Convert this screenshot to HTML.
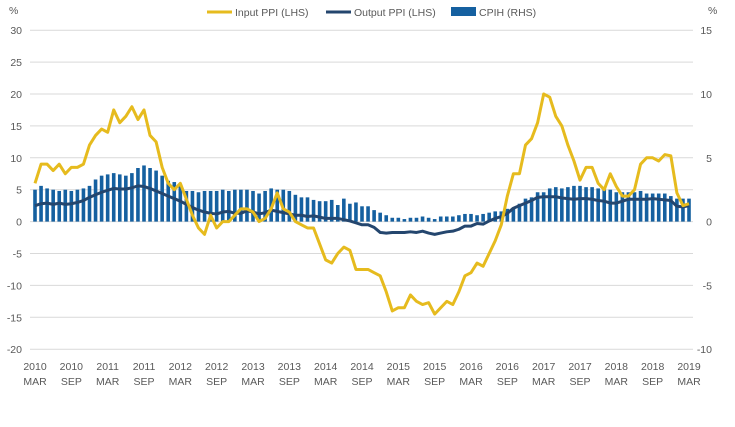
<!DOCTYPE html>
<html><head><meta charset="utf-8"><style>
body{margin:0;background:#fff;font-family:"Liberation Sans",sans-serif}
svg text{font-family:"Liberation Sans",sans-serif;font-size:10.5px;fill:#595959}
</style></head><body>
<svg id="c" width="735" height="422"></svg>
<script>
const startYear=2010,startMonth=3;
const inputPPI=[6,9,9,8,9,7.5,8.5,8.5,9,12,
13.5,14.5,14,17.5,15.5,16.5,18,16,17.5,13.5,12.5,8.5,
6,5,6,3.5,1,-1,-2,1,-1,0,0,1,
2,2,1.5,0,0.5,2,4.5,2,1.5,0,-0.5,-1,
-1,-3.5,-6,-6.5,-5,-4,-4.5,-7.5,-7.5,-7.5,-8,-8.5,
-11,-14,-13.5,-13.5,-11.5,-12.5,-13,-12.7,-14.5,-13.5,-12.5,-13,
-11,-8.5,-8,-6.5,-7,-5,-3,-0.5,4,7.5,7.5,12,
13,15.5,20,19.5,16.5,15,12,9.5,6.5,8.5,8.5,6,
5,7.5,5.5,4,4,5,9,10,10,9.5,10.5,10.3,
4.5,2.5,2.8,4,3.7].slice(0,109);
const outputPPI=[2.5,2.8,2.9,2.7,2.9,2.7,2.8,3.0,3.3,3.8,
4.2,4.6,4.9,5.2,5.1,5.1,5.3,5.6,5.5,5.2,4.8,4.4,
4.0,3.6,3.2,2.7,2.2,1.8,1.5,1.3,1.2,1.5,1.6,1.3,
1.3,1.7,1.5,1.2,1.4,1.8,1.6,1.4,1.2,1.0,1.0,0.8,
0.9,0.7,0.5,0.5,0.5,0.3,0.1,-0.2,-0.5,-0.5,-0.9,-1.7,
-1.8,-1.7,-1.7,-1.7,-1.6,-1.7,-1.5,-1.8,-2.0,-1.8,-1.6,-1.5,
-1.2,-0.7,-0.7,-0.3,-0.4,0.1,0.5,0.8,1.3,2.1,2.5,2.9,
3.3,3.8,3.9,3.9,3.9,3.7,3.6,3.5,3.6,3.6,3.5,3.3,
3.2,2.9,2.9,3.2,3.5,3.5,3.5,3.5,3.6,3.5,3.4,3.3,
2.4,2.3,2.5];
const cpih=[2.5,2.8,2.6,2.5,2.4,2.5,2.4,2.5,2.6,2.8,
3.3,3.6,3.7,3.8,3.7,3.6,3.8,4.2,4.4,4.2,4.0,3.6,
3.2,3.1,2.9,2.4,2.4,2.3,2.4,2.4,2.4,2.5,2.4,2.5,
2.5,2.5,2.4,2.2,2.4,2.6,2.5,2.5,2.4,2.1,1.9,1.9,
1.7,1.6,1.6,1.7,1.3,1.8,1.4,1.5,1.2,1.2,0.9,0.7,
0.5,0.3,0.3,0.2,0.3,0.3,0.4,0.3,0.2,0.4,0.4,0.4,
0.5,0.6,0.6,0.5,0.6,0.7,0.8,0.8,1.0,1.1,1.4,1.8,
1.9,2.3,2.3,2.6,2.7,2.6,2.7,2.8,2.8,2.7,2.7,2.6,
2.6,2.5,2.3,2.3,2.3,2.3,2.4,2.2,2.2,2.2,2.2,2.0,
1.8,1.8,1.8];
const leftTicks=[30,25,20,15,10,5,0,-5,-10,-15,-20];
const rightTicks=[15,10,5,0,-5,-10];
const xYears=["2010","2010","2011","2011","2012","2012","2013","2013","2014","2014","2015","2015","2016","2016","2017","2017","2018","2018","2019"];
const xMonths=["MAR","SEP","MAR","SEP","MAR","SEP","MAR","SEP","MAR","SEP","MAR","SEP","MAR","SEP","MAR","SEP","MAR","SEP","MAR"];

const NS="http://www.w3.org/2000/svg",svg=document.getElementById('c');
const n=inputPPI.length;
const x=i=>35+i*(654/108);
const yL=v=>221.6-v*(319/50);
const yR=v=>221.6-v*(319/25);
function el(t,a,p){const e=document.createElementNS(NS,t);for(const k in a)e.setAttribute(k,a[k]);(p||svg).appendChild(e);return e;}
leftTicks.forEach(v=>{
 const g=el('line',{x1:30,x2:693,y1:yL(v),y2:yL(v),stroke:'#d9d9d9','stroke-width':1});
 
 
 const t=el('text',{x:22,y:yL(v)+4,'text-anchor':'end'});t.textContent=v;
 
 
});
rightTicks.forEach(v=>{
 const t=el('text',{x:712,y:yR(v)+4,'text-anchor':'end'});t.textContent=v;
 
 
});
let t1=el('text',{x:9,y:14});t1.textContent='%';
let t2=el('text',{x:708,y:14});t2.textContent='%';
cpih.forEach((v,i)=>{
 const y0=yR(0),y1=yR(v);
 const b=el('rect',{x:x(i)-1.8,y:Math.min(y0,y1),width:3.6,height:Math.abs(y1-y0),fill:'#1560a0'});
 
 
});
function line(arr,col,name){
 const p=el('polyline',{points:arr.map((v,i)=>x(i)+','+yL(v)).join(' '),fill:'none',stroke:col,'stroke-width':3,'stroke-linejoin':'round'});
 
 
}
line(outputPPI,'#24466e','output-ppi-line');
line(inputPPI,'#e6bb1e','input-ppi-line');
xYears.forEach((yv,i)=>{
 const xx=x(i*6);
 const a=el('text',{x:xx,y:370,'text-anchor':'middle'});a.textContent=yv;
 
 
 const b=el('text',{x:xx,y:385,'text-anchor':'middle'});b.textContent=xMonths[i];
 
 
});
const lg=el('g',{});
el('line',{x1:207,x2:232,y1:12,y2:12,stroke:'#e6bb1e','stroke-width':3},lg);
let a=el('text',{x:235,y:16},lg);a.textContent='Input PPI (LHS)';
el('line',{x1:326,x2:351,y1:12,y2:12,stroke:'#24466e','stroke-width':3},lg);
a=el('text',{x:354,y:16},lg);a.textContent='Output PPI (LHS)';
el('rect',{x:451,y:7,width:25,height:9,fill:'#1560a0'},lg);
a=el('text',{x:479,y:16},lg);a.textContent='CPIH (RHS)';
</script>
</body></html>
